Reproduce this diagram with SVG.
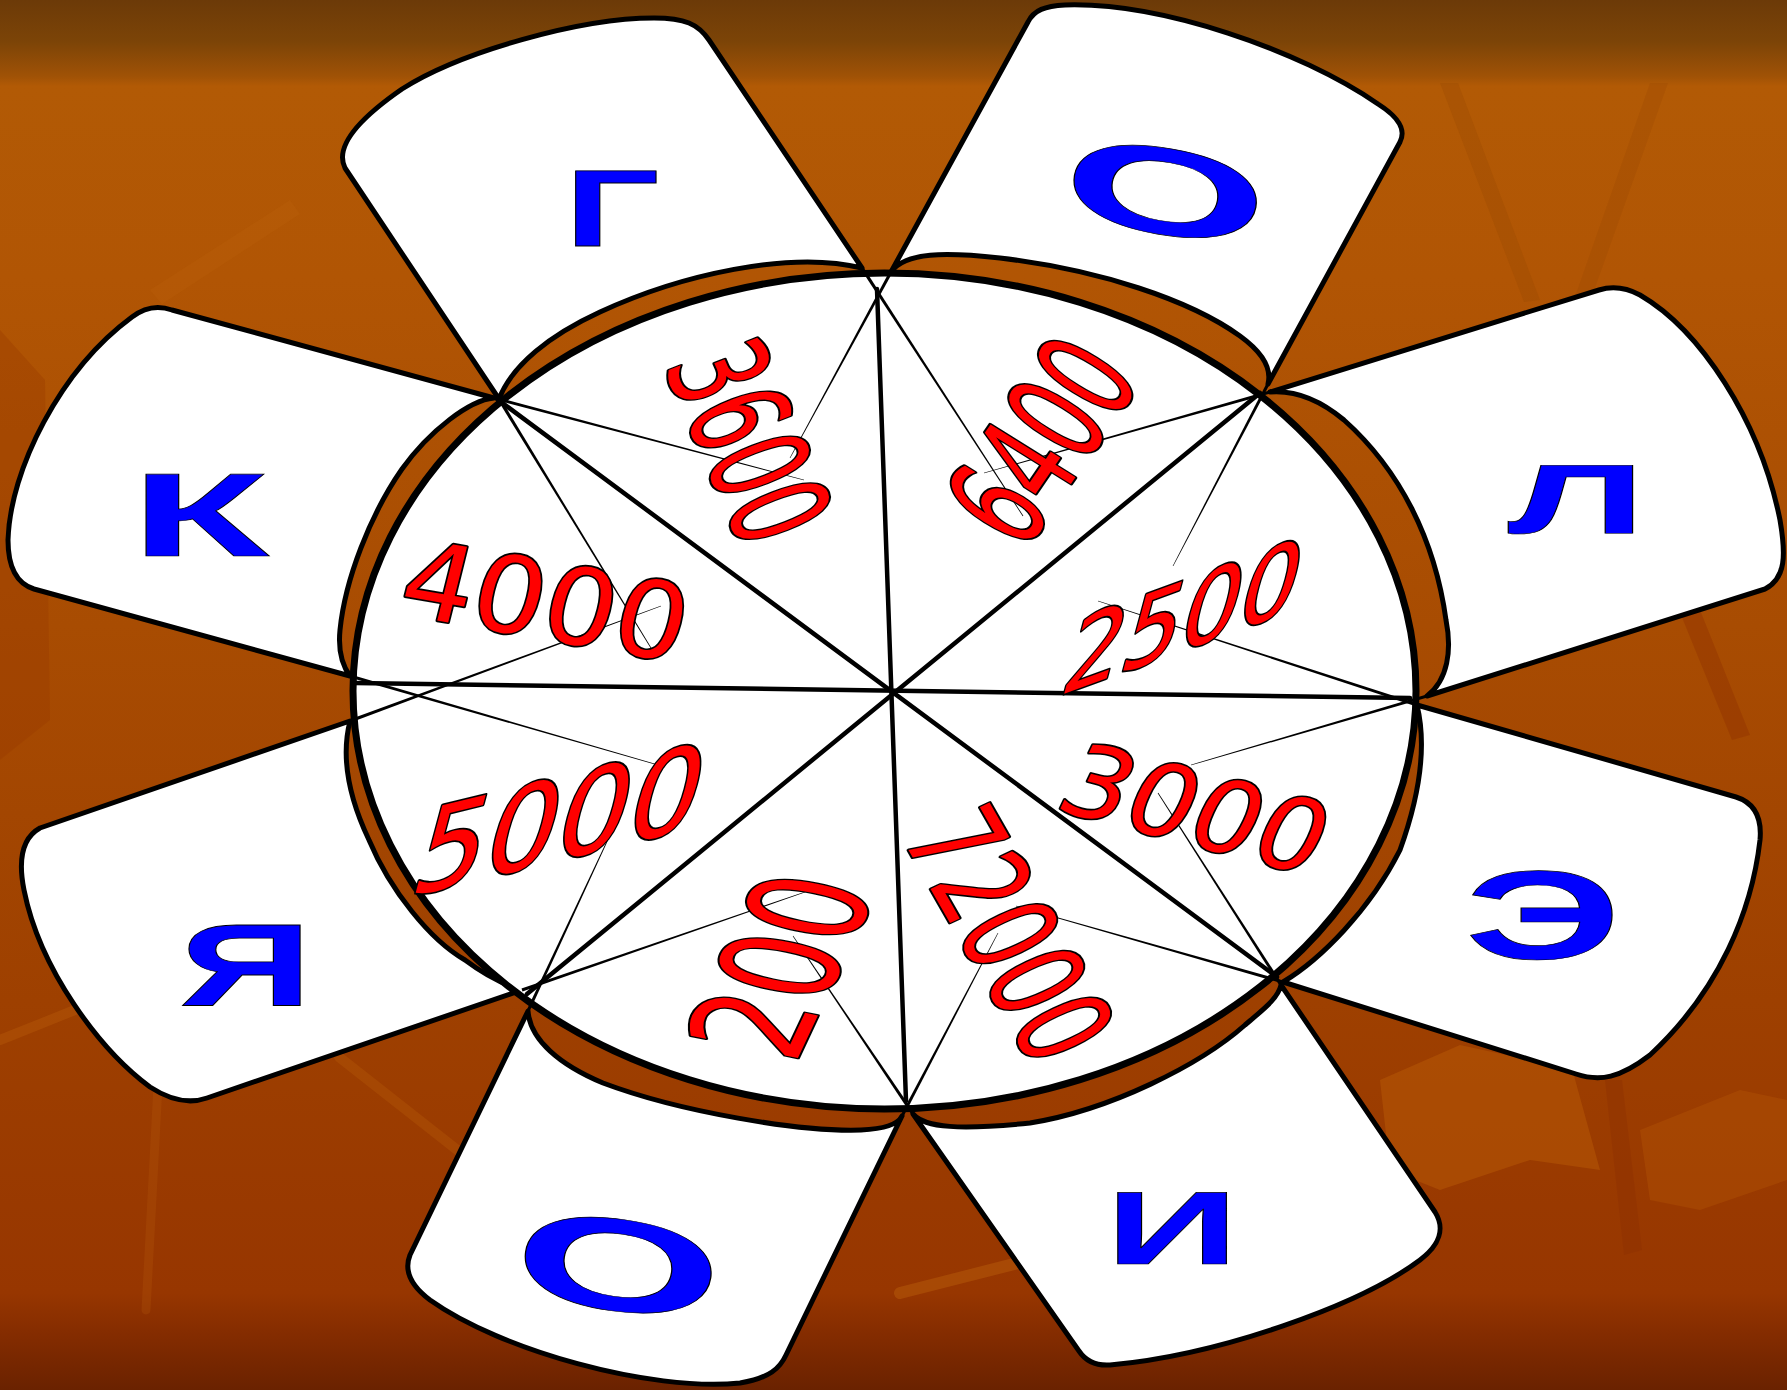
<svg xmlns="http://www.w3.org/2000/svg" width="1787" height="1390" viewBox="0 0 1787 1390">
<defs>
<linearGradient id="bg" x1="0" y1="0" x2="0" y2="1">
<stop offset="0" stop-color="#6c3a08"/>
<stop offset="0.03" stop-color="#7c4407"/>
<stop offset="0.055" stop-color="#a05206"/>
<stop offset="0.062" stop-color="#b25a05"/>
<stop offset="0.2" stop-color="#b15504"/>
<stop offset="0.45" stop-color="#a84c02"/>
<stop offset="0.72" stop-color="#9e4000"/>
<stop offset="0.93" stop-color="#973600"/>
<stop offset="0.96" stop-color="#842c00"/>
<stop offset="1" stop-color="#6a2200"/>
</linearGradient>
<style>
.petal{fill:#fff;stroke:#000;stroke-width:5;stroke-linejoin:round}
.spoke{stroke:#000;stroke-width:4.5;stroke-linecap:round}
.fold{fill:#000;stroke:none}
.num{font-family:"DejaVu Sans",sans-serif;font-size:100px;fill:#f00;stroke:#000;stroke-width:3.4;paint-order:stroke;stroke-linejoin:round;vector-effect:non-scaling-stroke;text-anchor:middle}
.let{font-family:"Liberation Sans",Arial,sans-serif;font-weight:bold;fill:#00f;stroke:#000;stroke-width:1;vector-effect:non-scaling-stroke;text-anchor:middle}
.leto{font-family:"Liberation Sans",Arial,sans-serif;font-weight:bold;font-size:100px;fill:#00f;stroke:#000;stroke-width:1;vector-effect:non-scaling-stroke;text-anchor:middle}
.lite{fill:none;stroke:#b85c0a;stroke-linecap:round}
</style>
</defs>
<g id="background">
<rect width="1787" height="1390" fill="url(#bg)"/>
<polygon points="0,330 0,760 50,720 45,380" fill="#983a00" opacity="0.35"/>
<path class="lite" d="M0,1040 L75,1010 L140,975" stroke-width="10" opacity="0.4"/>
<path class="lite" d="M339,1057 L470,1160" stroke-width="10" opacity="0.35"/>
<path class="lite" d="M158,1085 L146,1310" stroke-width="9" opacity="0.25"/>
<path class="lite" d="M900,1293 L1030,1260" stroke-width="12" opacity="0.5"/>
<polygon points="1380,1080 1460,1045 1530,1060 1560,1025 1600,1170 1530,1160 1440,1190 1390,1170" fill="#b65806" opacity="0.55"/>
<polygon points="1640,1130 1740,1090 1787,1100 1787,1180 1700,1210 1650,1200" fill="#b65806" opacity="0.35"/>
<polygon points="1605,1080 1622,1080 1642,1250 1624,1255" fill="#8e3000" opacity="0.45"/>
<polygon points="1681,615 1700,610 1750,735 1732,740" fill="#8e3000" opacity="0.4"/>
<polygon points="1440,83 1458,83 1540,300 1524,302" fill="#9a4a04" opacity="0.35"/>
<polygon points="1650,83 1668,83 1580,330 1564,328" fill="#9a4a04" opacity="0.3"/>
<polygon points="150,290 290,200 300,214 162,304" fill="#c06a10" opacity="0.18"/>
</g>
<g id="petal-g"><path class="petal" d="M 499,399 L 345,168 C 336,150 350,125 402,89 C 460,52 580,18 654,18 C 685,18 698,24 709,40 L 862,268 C 790,250 680,275 600,312 C 550,335 512,365 499,399 Z"/>
<text class="let" font-size="110" transform="translate(612 206.5) scale(1.52 1)" x="0" y="39.4">Г</text></g>
<g id="petal-o-top"><path class="petal" d="M 891,272 L 1028,22 C 1034,10 1045,6 1065,5 C 1160,2 1300,50 1378,104 C 1400,118 1406,130 1400,142 L 1268,384 C 1272,368 1262,352 1240,336 C 1190,300 1100,270 1000,258 C 945,252 905,252 891,272 Z"/>
<text class="leto" transform="translate(1165.5 190) rotate(10) scale(2.65 1.22)" x="0" y="35.8">О</text></g>
<g id="petal-l"><path class="petal" d="M 1270,392 L 1599,290 C 1612,286 1625,287 1640,295 C 1700,330 1760,420 1780,520 C 1786,555 1786,578 1765,589 L 1427,696 C 1448,680 1452,650 1446,620 C 1435,540 1400,470 1344,420 C 1320,400 1295,390 1270,392 Z"/>
<text class="let" font-size="99" transform="translate(1576.5 497.5) scale(1.99 1)" x="0" y="35.4">Л</text></g>
<g id="petal-e"><path class="petal" d="M 1417,705 L 1736,797 C 1755,803 1762,818 1760,840 C 1752,910 1720,990 1650,1055 C 1620,1078 1600,1082 1576,1074 L 1283,982 C 1320,960 1370,910 1400,850 C 1418,800 1428,750 1417,705 Z"/>
<text class="let" font-size="126" transform="translate(1543 914) scale(1.74 1)" x="0" y="45">Э</text></g>
<g id="petal-i"><path class="petal" d="M 1281,985 L 1435,1212 C 1445,1228 1440,1245 1420,1260 C 1360,1305 1220,1355 1110,1365 C 1095,1366 1085,1360 1079,1351 L 913,1114 C 925,1128 960,1130 1030,1123 C 1110,1110 1200,1065 1245,1025 C 1265,1008 1278,998 1281,985 Z"/>
<text class="let" font-size="103" transform="translate(1172 1227) scale(1.8 1)" x="0" y="36.8">И</text></g>
<g id="petal-o-bottom"><path class="petal" d="M 902,1116 L 786,1355 C 780,1368 770,1378 740,1383 C 650,1392 500,1350 430,1300 C 410,1285 404,1270 410,1255 L 528,1011 C 530,1040 560,1065 603,1083 C 680,1112 800,1132 861,1130 C 885,1129 898,1124 902,1116 Z"/>
<text class="leto" transform="translate(618.5 1263.5) rotate(8) scale(2.69 1.3)" x="0" y="35.8">О</text></g>
<g id="petal-ya"><path class="petal" d="M 522,990 L 207,1098 C 190,1104 170,1100 150,1087 C 100,1050 40,970 24,890 C 18,860 22,838 40,828 L 350,721 C 340,760 350,800 369,840 C 390,890 430,940 465,960 C 485,975 505,985 522,990 Z"/>
<text class="let" font-size="117" transform="translate(246 964) scale(1.58 1)" x="0" y="41.9">Я</text></g>
<g id="petal-k"><path class="petal" d="M 350,676 L 34,589 C 18,584 8,570 8,540 C 10,470 60,370 132,317 C 145,307 158,305 172,310 L 494,398 C 470,400 430,430 402,469 C 370,515 345,580 340,630 C 338,650 342,665 350,676 Z"/>
<text class="let" font-size="119" transform="translate(200 513.5) scale(1.9 1)" x="0" y="42.6">К</text></g>
<g id="wheel"><ellipse cx="884.5" cy="691" rx="531.5" ry="418" fill="#fff" stroke="#000" stroke-width="7"/></g>
<g id="connectors">
<line class="spoke" x1="497" y1="399" x2="1277" y2="977"/>
<line class="spoke" x1="877" y1="289" x2="906" y2="1101"/>
<line class="spoke" x1="1260" y1="393" x2="527" y2="994"/>
<line class="spoke" x1="355" y1="683" x2="1410" y2="698"/>
<polygon class="fold" points="493.6,399.5 803.9,480.3 804.1,479.7 494.4,396.5"/>
<polygon class="fold" points="497.6,399.8 650.7,648.2 651.3,647.8 500.4,398.2"/>
<polygon class="fold" points="860.7,268.9 1022.7,516.2 1023.3,515.8 863.3,267.1"/>
<polygon class="fold" points="889.6,271.2 789.7,457.9 790.3,458.1 892.4,272.8"/>
<polygon class="fold" points="1266.6,383.3 1172.7,565.9 1173.3,566.1 1269.4,384.7"/>
<polygon class="fold" points="1269.6,390.5 983.9,472.7 984.1,473.3 1270.4,393.5"/>
<polygon class="fold" points="1426.6,694.5 1190.9,764.7 1191.1,765.3 1427.4,697.5"/>
<polygon class="fold" points="1417.5,703.5 1098.1,600.7 1097.9,601.3 1416.5,706.5"/>
<polygon class="fold" points="1283.4,980.5 1016.1,905.7 1015.9,906.3 1282.6,983.5"/>
<polygon class="fold" points="1282.3,984.1 1158.3,792.8 1157.7,793.2 1279.7,985.9"/>
<polygon class="fold" points="914.3,1113.1 793.2,935.8 792.8,936.2 911.7,1114.9"/>
<polygon class="fold" points="903.4,1116.7 998.3,933.1 997.7,932.9 900.6,1115.3"/>
<polygon class="fold" points="529.4,1011.7 617.3,820.1 616.7,819.9 526.6,1010.3"/>
<polygon class="fold" points="522.5,991.5 808.1,891.3 807.9,890.7 521.5,988.5"/>
<polygon class="fold" points="350.6,722.5 661.1,606.3 660.9,605.7 349.4,719.5"/>
<polygon class="fold" points="349.6,677.5 664.9,767.3 665.1,766.7 350.4,674.5"/>
</g>
<g id="numbers">
<text id="n4000" class="num" transform="matrix(1.111 0.193 -0.259 1.037 546 600)" x="0" y="36.5">4000</text>
<text id="n3600" class="num" transform="matrix(0.314 0.734 -1.274 0.493 750 441)" x="0" y="36.5">3600</text>
<text id="n6400" class="num" transform="matrix(0.467 -0.681 1.164 0.726 1040.5 440)" x="0" y="36.5">6400</text>
<text id="n2500" class="num" transform="matrix(0.917 -0.335 -0.284 1.059 1184.5 615)" x="0" y="36.5">2500</text>
<text id="n3000" class="num" transform="matrix(1.011 0.263 -0.438 0.932 1196.5 808)" x="0" y="36.5">3000</text>
<text id="n72000" class="num" transform="matrix(0.421 0.735 -1.171 0.548 1010.5 933.5)" x="0" y="36.5">72000</text>
<text id="n200" class="num" transform="matrix(0.432 -0.92 1.548 0.315 779.5 965.5)" x="0" y="36.5">200</text>
<text id="n5000" class="num" transform="matrix(1.121 -0.272 -0.326 1.218 561 818)" x="0" y="36.5">5000</text>
</g>
</svg>
